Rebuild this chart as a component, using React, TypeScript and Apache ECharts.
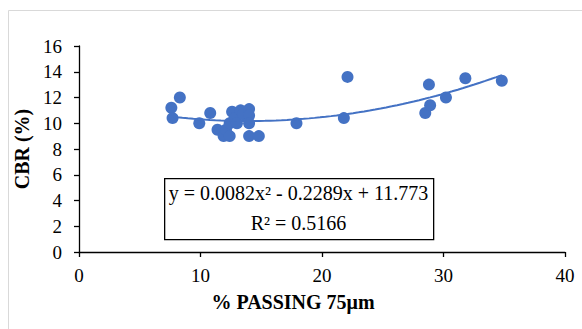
import React, { useEffect, useRef } from "react";
import * as echarts from "echarts";

const cbrPoints: [number, number][] = [
  [7.6, 11.2], [7.7, 10.4], [8.3, 12.0], [9.9, 10.0], [10.8, 10.8],
  [11.4, 9.5], [11.9, 9.0], [12.1, 9.5], [12.4, 9.0], [12.4, 10.0],
  [12.6, 10.9], [12.8, 10.4], [13.0, 10.0], [13.3, 11.0], [13.5, 10.7],
  [14.0, 11.1], [14.0, 10.6], [14.0, 10.0], [14.0, 9.0], [14.8, 9.0],
  [17.9, 10.0], [21.8, 10.4], [22.1, 13.6], [28.5, 10.8], [28.8, 13.0],
  [28.9, 11.4], [30.2, 12.0], [31.8, 13.5], [34.8, 13.3],
];

// Fitted polynomial coefficients (a, b, c) for y = a x^2 + b x + c
const trendCoefficients = [0.0082, -0.2289, 11.773];
const trendRange = [7.6, 34.8];

const xTicks = [0, 10, 20, 30, 40];
const yTicks = [0, 2, 4, 6, 8, 10, 12, 14, 16];

const equationText = "y = 0.0082x² - 0.2289x + 11.773";
const r2Text = "R² = 0.5166";
const xTitle = "% PASSING 75μm";
const yTitle = "CBR (%)";

const FONT = "'Liberation Serif', 'Times New Roman', serif";
const BLUE = "#4472C4";

export default function App() {
  const ref = useRef<HTMLDivElement>(null);

  useEffect(() => {
    if (!ref.current) return;
    const chart = echarts.init(ref.current, null, { renderer: "svg" });

    const [a, b, c] = trendCoefficients;
    const trend: [number, number][] = [];
    const steps = 60;
    for (let i = 0; i <= steps; i++) {
      const x = trendRange[0] + ((trendRange[1] - trendRange[0]) * i) / steps;
      trend.push([x, a * x * x + b * x + c]);
    }

    chart.setOption({
      animation: false,
      backgroundColor: "#ffffff",
      grid: { left: 79, right: 17, top: 46, bottom: 77 },
      xAxis: {
        type: "value",
        min: xTicks[0],
        max: xTicks[xTicks.length - 1],
        interval: 10,
        splitLine: { show: false },
        axisLine: { show: true, lineStyle: { color: "#000", width: 1.3 } },
        axisTick: { show: true, length: 5, lineStyle: { color: "#000", width: 1.3 } },
        axisLabel: { color: "#000", fontFamily: FONT, fontSize: 19, margin: 14 },
        name: xTitle,
        nameLocation: "middle",
        nameGap: 40,
        nameTextStyle: {
          color: "#000",
          fontFamily: FONT,
          fontSize: 20,
          fontWeight: "bold",
          padding: [0, 58, 0, 0],
        },
      },
      yAxis: {
        type: "value",
        min: yTicks[0],
        max: yTicks[yTicks.length - 1],
        interval: 2,
        splitLine: { show: false },
        axisLine: { show: true, lineStyle: { color: "#000", width: 1.3 } },
        axisTick: { show: true, length: 5, lineStyle: { color: "#000", width: 1.3 } },
        axisLabel: { color: "#000", fontFamily: FONT, fontSize: 19, margin: 17 },
        name: yTitle,
        nameLocation: "middle",
        nameGap: 44,
        nameTextStyle: { color: "#000", fontFamily: FONT, fontSize: 20, fontWeight: "bold" },
      },
      series: [
        {
          type: "line",
          data: trend,
          showSymbol: false,
          symbol: "none",
          smooth: false,
          lineStyle: { color: BLUE, width: 2 },
          z: 3,
        },
        {
          type: "scatter",
          data: cbrPoints,
          symbol: "circle",
          symbolSize: 12,
          itemStyle: { color: BLUE, opacity: 1 },
          z: 2,
        },
      ],
      graphic: [
        {
          type: "rect",
          left: 6,
          top: 8,
          shape: { width: 600, height: 400 },
          style: { fill: "none", stroke: "#d9d9d9", lineWidth: 1 },
          silent: true,
        },
        {
          type: "rect",
          left: 164,
          top: 178,
          shape: { width: 269, height: 61 },
          style: { fill: "#ffffff", stroke: "#000", lineWidth: 1.3 },
          z: 10,
        },
        {
          type: "text",
          x: 298.5,
          y: 193,
          style: {
            text: equationText,
            fill: "#000",
            font: `20px ${FONT}`,
            align: "center",
            verticalAlign: "middle",
          },
          z: 11,
        },
        {
          type: "text",
          x: 298.5,
          y: 223,
          style: {
            text: r2Text,
            fill: "#000",
            font: `20px ${FONT}`,
            align: "center",
            verticalAlign: "middle",
          },
          z: 11,
        },
      ],
    });

    return () => chart.dispose();
  }, []);

  return (
    <div
      ref={ref}
      style={{ position: "absolute", left: 0, top: 0, width: 582, height: 329 }}
    />
  );
}
